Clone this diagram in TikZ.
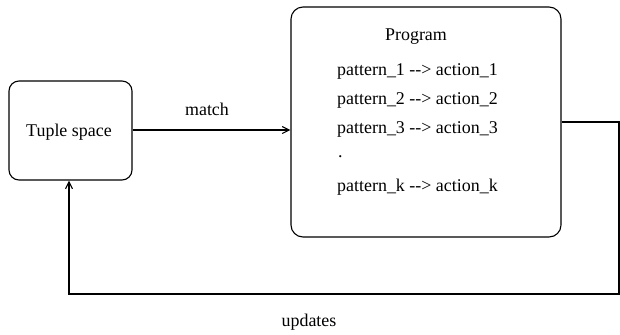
\documentclass[tikz,border=0pt]{standalone}
\usepackage{fontspec}
\setmainfont{Liberation Serif}
\usetikzlibrary{arrows.meta}
\newcommand{\arr}{\mbox{-}\mbox{-}\mbox{>}}
\begin{document}
\begin{tikzpicture}[x=1bp,y=-1bp,
  box/.style={draw,line width=1.1bp,rounded corners=10bp},
  lbl/.style={inner sep=0pt,font=\fontsize{18}{21}\selectfont},
  conn/.style={line width=1.1bp},
  tip/.style={-{Straight Barb[length=7bp,width=7bp,line width=1.1bp]}}]
\useasboundingbox (0,0) rectangle (620,334);
\node[box,minimum width=123bp,minimum height=99bp] (ts) at (70.5,130.5) {};
\node[lbl] (tstext) at (69,132) {Tuple space};
\node[box,minimum width=270bp,minimum height=230bp,rounded corners=12bp] (prog) at (426,122) {};
\node[lbl] (ptitle) at (416,37) {Program};
\node[lbl,anchor=west] (p1) at (337,71) {pattern\_1 \arr\ action\_1};
\node[lbl,anchor=west] (p2) at (337,100) {pattern\_2 \arr\ action\_2};
\node[lbl,anchor=west] (p3) at (337,129) {pattern\_3 \arr\ action\_3};
\node[lbl,anchor=west] (pd) at (338,157) {.};
\node[lbl,anchor=west] (pk) at (337,187) {pattern\_k \arr\ action\_k};
\node[lbl] (match) at (207,109) {match};
\node[lbl] (upd) at (309,322) {updates};
\coordinate (c1) at (619,122);
\coordinate (c2) at (619,294);
\coordinate (c3) at (69,294);
\draw[conn,tip] (ts.east |- 0,130) -- (prog.west |- 0,130);
\draw[conn,tip] (prog.east |- c1) -- (c1) -- (c2) -- (c3) -- (c3 |- ts.south);
\end{tikzpicture}
\end{document}
